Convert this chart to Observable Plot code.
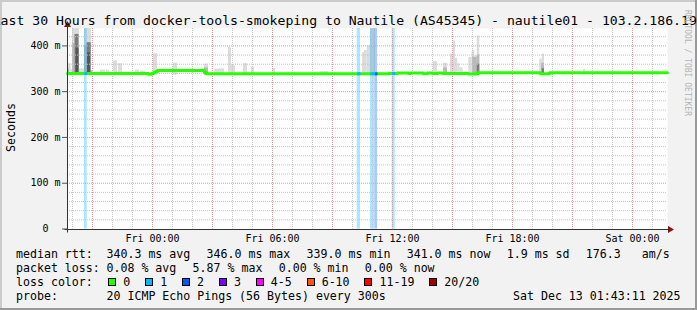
<!DOCTYPE html>
<html><head><meta charset="utf-8">
<script src="https://cdn.jsdelivr.net/npm/d3@7"></script>
<script src="https://cdn.jsdelivr.net/npm/@observablehq/plot@0.6"></script>
<style>
html,body{margin:0;padding:0;background:#f2f2f2;overflow:hidden;}
#chart svg{display:block;}
#chart svg text{font-family:"DejaVu Sans Mono",monospace;white-space:pre;}
</style></head><body><div id="chart"></div>
<script>
// ---------------- data ----------------
const titleText = "Last 30 Hours from docker-tools-smokeping to Nautile (AS45345) - nautile01 - 103.2.186.19";
const yAxisTitle = "Seconds";
const watermark = "RRDTOOL / TOBI OETIKER";
// time is given in hours after Fri Dec 12 2025 00:00
const windowHours = [-4.25, 25.75];
const xTickHours = [0, 6, 12, 18, 24];
const yTicks = [0, 100, 200, 300, 400];
const yMax = 438;

// median rtt (ms), step changes
const medianHours = [-4.25, -0.2, -0.05, 0.05, 0.15, 0.25, 2.6, 2.7, 11.8, 12.25, 12.8, 12.9, 13.55, 13.75, 14.0, 14.25, 14.5, 15.8, 16.25, 19.4, 19.85, 25.75];
const medianMs    = [339.5, 338, 339.5, 342, 344, 346, 342, 339, 339.5, 341, 339.5, 341, 339, 341, 339.5, 341, 339.5, 338.5, 341.5, 339, 341.5, 341.5];

// smoke (ping spread), by shade level
const smokeBase = 336;
const lightFrom = [-4.25,-4.075,-4.0,-3.65,-3.4,-3.05,-2.6,-2.3,-1.95,-1.7,-0.85,-0.6,0.05,1.05,2.6,3.1,3.35,3.8,3.95,4.55,4.95,6.0,8.4,10.5,10.6,10.735,10.9,14.05,14.55,14.9,15.05,15.15,15.265,15.365,15.815,15.985,16.115,16.235,19.365,19.485,21.55];
const lightTo   = [-4.075,-4.0,-3.65,-3.4,-3.05,-2.975,-2.35,-2.15,-1.75,-1.5,-0.65,-0.35,0.25,1.25,2.8,3.35,3.6,3.95,4.15,4.75,5.1,6.15,8.8,10.6,10.735,10.9,11.15,14.25,14.75,15.05,15.15,15.265,15.365,15.535,15.985,16.115,16.235,16.365,19.485,19.6,21.65];
const lightTop  = [361,349,438,350,438,345,347,347,367,361,347,345,383,362,360,349,350,396,357,361,354,350,344,385,390,400,438,366,362,382,411,373,361,352,375,389,378,422,371,382,349];
const midFrom = [-4.25,-4.0,-3.4,-3.065,2.6,14.55,16.0,16.235,19.45];
const midTo   = [-4.15,-3.875,-3.265,-2.985,2.8,14.75,16.235,16.365,19.6];
const midTop  = [350,405,400,345,352,352,375,380,362];
const darkFrom = [-3.875,-3.265,16.235,19.485];
const darkTo   = [-3.675,-3.065,16.365,19.6];
const darkTop  = [425,407,360,350];
const darkestFrom = [-3.825,-3.25];
const darkestTo   = [-3.675,-3.1];
const darkestTop  = [395,385];

// packet loss events
const lossFrom  = [-3.4, 10.235, 10.9, 11.125, 11.985];
const lossTo    = [-3.265, 10.4, 11.125, 11.25, 12.135];
const lossCount = [1, 1, 1, 2, 1];

// legend
const lossLabels = ["0","1","2","3","4-5","6-10","11-19","20/20"];
const lossColors = ["#26ff00","#00b8ff","#0059ff","#7e00ff","#ff00ff","#ff5500","#ff0000","#a10000"];
const rttStats  = ["340.3 ms avg","346.0 ms max","339.0 ms min","341.0 ms now","1.9 ms sd","176.3   am/s"];
const lossStats = ["0.08 % avg","5.87 % max","0.00 % min","0.00 % now"];
const probeText = "20 ICMP Echo Pings (56 Bytes) every 300s";
const stampText = "Sat Dec 13 01:43:11 2025";

// ---------------- build ----------------
const FRI = Date.UTC(2025, 11, 12);
const T = h => new Date(FRI + h * 3600e3);
const lossIndex = n => n <= 0 ? 0 : n <= 3 ? n : n <= 5 ? 4 : n <= 10 ? 5 : n < 20 ? 6 : 7;
const medianAt = h => medianMs[Math.max(0, d3.bisectRight(medianHours, h) - 1)];

const median = medianHours.map((h, i) => ({t: T(h), v: medianMs[i]}));
const shades = ["#dcdcdc", "#b8b8b8", "#7c7c7c", "#565656"];
const layers = [[lightFrom, lightTo, lightTop], [midFrom, midTo, midTop], [darkFrom, darkTo, darkTop], [darkestFrom, darkestTo, darkestTop]];
const smoke = layers.flatMap(([f, to, top], s) => f.map((h, i) => ({x1: T(h), x2: T(to[i]), top: Math.min(top[i], yMax), fill: shades[s]})));
const loss = lossFrom.map((h, i) => ({x1: T(h), x2: T(lossTo[i]), v: medianAt((h + lossTo[i]) / 2), c: lossColors[lossIndex(lossCount[i])]}));

const t0 = T(windowHours[0]), t1 = T(windowHours[1]);
const hourTicks = d3.utcHour.range(d3.utcHour.ceil(t0), t1);
const minorX = hourTicks.filter(d => d.getUTCHours() % 3 !== 0);
const majorX = hourTicks.filter(d => d.getUTCHours() % 3 === 0);
const minorY = d3.range(20, yMax, 20).filter(v => v % 100 !== 0);
const majorY = yTicks.filter(v => v > 0);

const svg = Plot.plot({
  width: 697, height: 310,
  marginLeft: 67, marginRight: 30, marginTop: 28, marginBottom: 81.5,
  style: {background: "#f2f2f2", fontFamily: "DejaVu Sans Mono", fontSize: "10px", color: "#000"},
  x: {type: "utc", domain: [t0, t1], label: null},
  y: {domain: [0, yMax], label: null},
  color: {type: "identity"},
  marks: [
    Plot.frame({fill: "#ffffff", stroke: "none"}),
    Plot.rect(smoke, {x1: "x1", x2: "x2", y1: smokeBase, y2: "top", fill: "fill"}),
    Plot.rect(loss, {x1: "x1", x2: "x2", y1: 0, y2: yMax, fill: "c", fillOpacity: 0.33}),
    Plot.ruleX(minorX, {stroke: "#c4c4c4", strokeDasharray: "1,1"}),
    Plot.ruleY(minorY, {stroke: "#c4c4c4", strokeDasharray: "1,1"}),
    Plot.ruleX(majorX, {stroke: "#e49a9a", strokeDasharray: "1,1"}),
    Plot.ruleY(majorY, {stroke: "#e49a9a", strokeDasharray: "1,1"}),
    Plot.line(median, {x: "t", y: "v", curve: "step-after", stroke: lossColors[0], strokeWidth: 3}),
    Plot.link(loss, {x1: "x1", x2: "x2", y1: "v", y2: "v", stroke: "c", strokeWidth: 3}),
    Plot.axisX(xTickHours.map(T), {tickSize: 0, tickPadding: 6, fontSize: 10, tickFormat: d3.utcFormat("%a %H:%M"), label: null}),
    Plot.axisY(yTicks, {tickSize: 5, tickPadding: 2, fontSize: 10, stroke: "#555", tickFormat: v => v === 0 ? "0\u00a0\u00a0" : `${v} m`, label: null})
  ]
});
document.getElementById("chart").append(svg);

const s = d3.select(svg);
const X = svg.scale("x"), Y = svg.scale("y");
const xL = Math.round(X.apply(t0)) + 0.5, xR = X.apply(t1);
const y0 = Math.round(Y.apply(0)) + 0.5, yT = Y.apply(yMax);

// axes with arrows
s.append("line").attr("x1", xL).attr("x2", xL).attr("y1", y0 + 3).attr("y2", yT - 3).attr("stroke", "#333");
s.append("line").attr("x1", xL - 3).attr("x2", xR + 2).attr("y1", y0).attr("y2", y0).attr("stroke", "#333");
s.append("path").attr("d", `M${xL},${yT - 7}L${xL - 3.5},${yT - 1}L${xL + 3.5},${yT - 1}Z`).attr("fill", "#8b1010");
s.append("path").attr("d", `M${xR + 7},${y0}L${xR + 1},${y0 - 3.5}L${xR + 1},${y0 + 3.5}Z`).attr("fill", "#8b1010");

// frame shading
s.append("rect").attr("x", 0).attr("y", 0).attr("width", 697).attr("height", 2).attr("fill", "#cbcbcb");
s.append("rect").attr("x", 0).attr("y", 0).attr("width", 2).attr("height", 310).attr("fill", "#cbcbcb");
s.append("rect").attr("x", 0).attr("y", 308).attr("width", 697).attr("height", 2).attr("fill", "#999");
s.append("rect").attr("x", 695).attr("y", 0).attr("width", 2).attr("height", 310).attr("fill", "#999");

const g = s.append("g").attr("text-anchor", "start").attr("fill", "#000");
// title
g.append("text").attr("x", -7.3).attr("y", 24.5).attr("font-size", 13.15).text(titleText);
// y title
g.append("text").attr("transform", "translate(14.5,127.5) rotate(-90)").attr("text-anchor", "middle").attr("font-size", 11.6).text(yAxisTitle);
// watermark
g.append("text").attr("transform", "translate(685,10) rotate(90)").attr("font-size", 8).attr("fill", "#b4b4b4").text(watermark);

// legend
const cw = 6.98, fs = 11.6, x0 = 16, xv = 106.5;
const txt = (x, y, str) => g.append("text").attr("x", x).attr("y", y).attr("font-size", fs).text(str);
const rows = [257.5, 271.6, 285.7, 299.6];
txt(x0, rows[0], "median rtt:");
let cx = xv;
rttStats.forEach(str => { txt(cx, rows[0], str); cx += str.length * cw + 16.3; });
txt(x0, rows[1], "packet loss:");
cx = xv;
lossStats.forEach(str => { txt(cx, rows[1], str); cx += str.length * cw + 16.3; });
txt(x0, rows[2], "loss color:");
cx = 108.3;
lossLabels.forEach((lab, i) => {
  s.append("rect").attr("x", Math.round(cx) + 0.5).attr("y", 278.5).attr("width", 7).attr("height", 7)
    .attr("fill", lossColors[i]).attr("stroke", "#000");
  txt(cx + 15, rows[2], lab);
  cx += 15 + lab.length * cw + 14.9;
});
txt(x0, rows[3], "probe:");
txt(xv, rows[3], probeText);
txt(513, rows[3], stampText);
</script></body></html>
